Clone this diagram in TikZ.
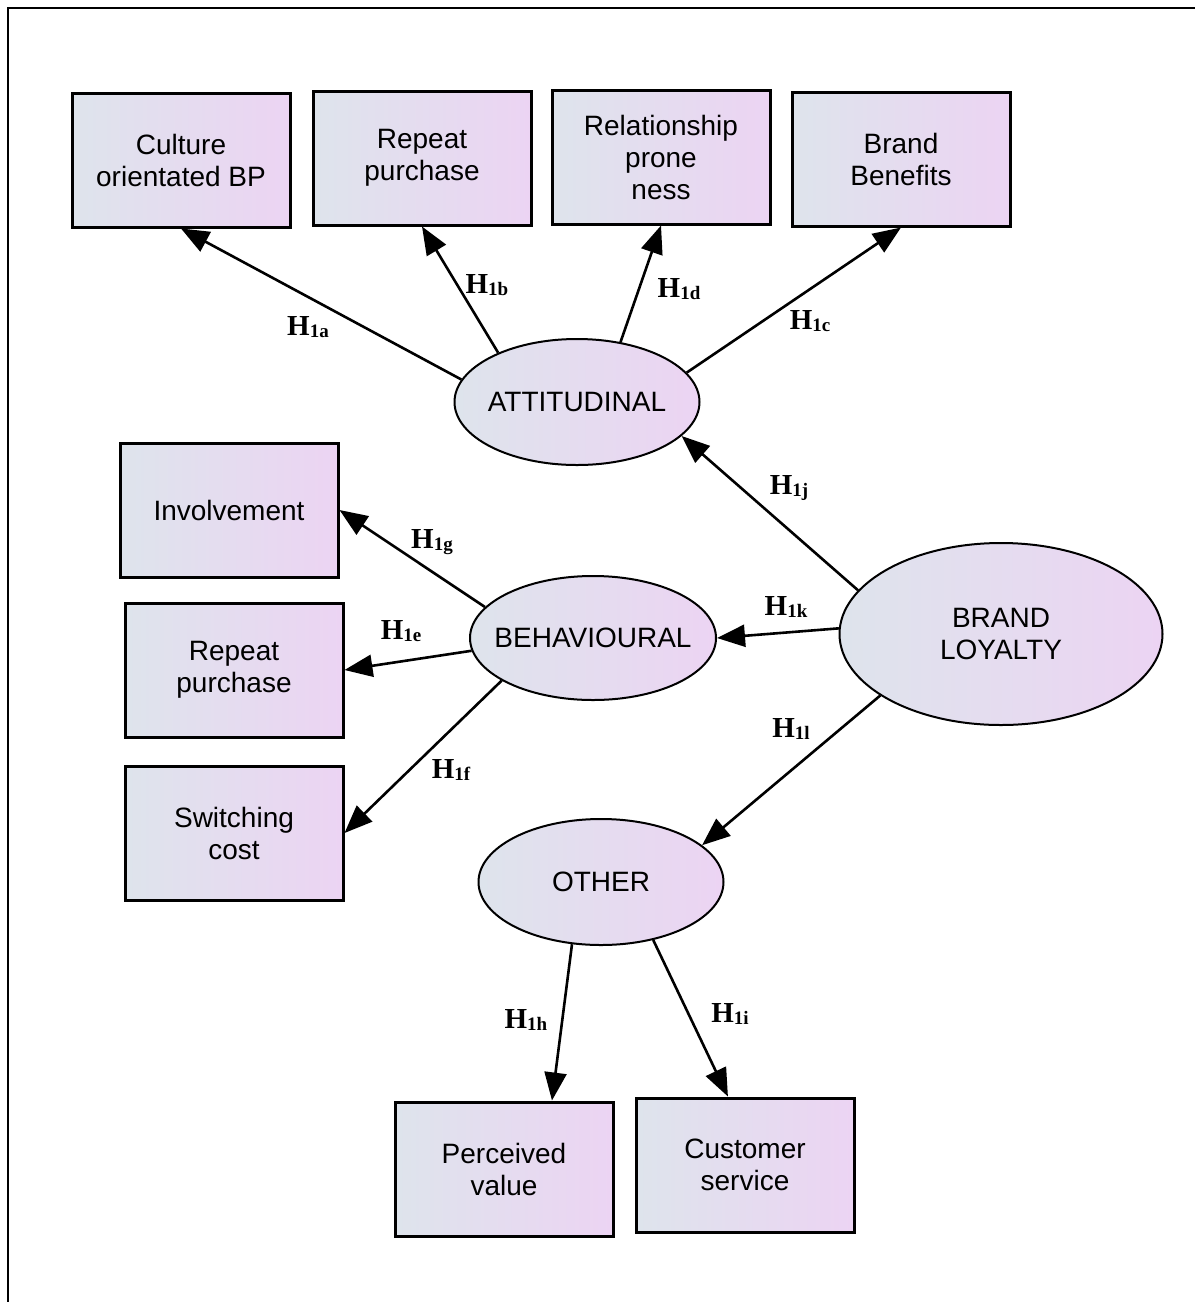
\documentclass[tikz,border=0pt]{standalone}
\usepackage{fontspec}
\setmainfont{Liberation Sans}
\newfontfamily\hypfont{Liberation Serif}
\usepackage{tikz}
\usetikzlibrary{arrows.meta,shapes.geometric}
\definecolor{shadeleft}{RGB}{222,228,236}
\definecolor{shaderight}{RGB}{236,212,243}
\tikzset{
    %Define standard arrow tip
    >={Triangle[length=14pt,width=11pt]},
    %Define style for boxes
    indicator/.style={
           rectangle,
           draw=black, line width=1.5pt,
           minimum width=109pt,
           minimum height=67pt,
           inner sep=0pt,
           align=center,
           font=\fontsize{14}{16}\selectfont,
           left color=shadeleft, right color=shaderight},
    %Define style for ellipses
    construct/.style={
           ellipse,
           draw=black, line width=1pt,
           minimum width=122.5pt,
           minimum height=63pt,
           inner xsep=-8pt, inner ysep=0pt,
           align=center,
           font=\fontsize{14}{16}\selectfont,
           left color=shadeleft, right color=shaderight},
    % Define label style
    hyp/.style={
           inner sep=0pt,
           font=\hypfont\bfseries\fontsize{14.5}{16}\selectfont},
    % Define arrow style
    pil/.style={
           ->,
           line width=1.3pt}
}
\newcommand{\hypo}[1]{H\raisebox{-1pt}{\fontsize{9.5}{10}\selectfont #1}}
\begin{document}
\begin{tikzpicture}[x=0.5pt,y=-0.5pt]
\useasboundingbox (0,0) rectangle (1195,1302);
\draw[line width=1.3pt] (8,1302) -- (8,8) -- (1195,8);
% constructs
\node[construct](att) at (577,402){ATTITUDINAL};
\node[construct, minimum width=123pt, minimum height=62pt](beh) at (593,638){BEHAVIOURAL};
\node[construct](oth) at (601,882){OTHER};
\node[construct, minimum width=161.5pt, minimum height=91pt](bl) at (1001,634){BRAND\\LOYALTY};
% indicators
\node[indicator](cult) at (181,160){Culture\\orientated BP};
\node[indicator](rep) at (422,158){Repeat\\purchase};
\node[indicator](rel) at (661,157){Relationship\\prone\\ness};
\node[indicator](ben) at (901,159){Brand\\Benefits};
\node[indicator](inv) at (229,510){Involvement};
\node[indicator](reptwo) at (234,670){Repeat\\purchase};
\node[indicator](swc) at (234,833){Switching\\cost};
\node[indicator](pv) at (504,1169){Perceived\\value};
\node[indicator](cs) at (745,1165){Customer\\service};
% hypotheses
\node[hyp](h1a) at (308,327){\hypo{1a}};
\node[hyp](h1b) at (487,285){\hypo{1b}};
\node[hyp](h1d) at (679,289){\hypo{1d}};
\node[hyp](h1c) at (810,321){\hypo{1c}};
\node[hyp](h1j) at (789,488){\hypo{1j}};
\node[hyp](h1g) at (432,542){\hypo{1g}};
\node[hyp](h1k) at (786,607){\hypo{1k}};
\node[hyp](h1e) at (401,631){\hypo{1e}};
\node[hyp](h1l) at (791,729){\hypo{1l}};
\node[hyp](h1f) at (451,770){\hypo{1f}};
\node[hyp](h1h) at (526,1020){\hypo{1h}};
\node[hyp](h1i) at (730,1014){\hypo{1i}};
\path[pil]
	(att.169) edge (cult.south)
	(att.148) edge (rep.south)
	(att.54) edge (rel.south)
	(att.15) edge (ben.south)
	(bl.163) edge (att.-18)
	(bl.178) edge (beh.east)
	(bl.207) edge (oth.20)
	(beh.164) edge (inv.east)
	(beh.186) edge (reptwo.east)
	(beh.205) edge (swc.east)
	(oth.245) edge (pv.55)
	(oth.-48) edge (cs.104);
\end{tikzpicture}
\end{document}
